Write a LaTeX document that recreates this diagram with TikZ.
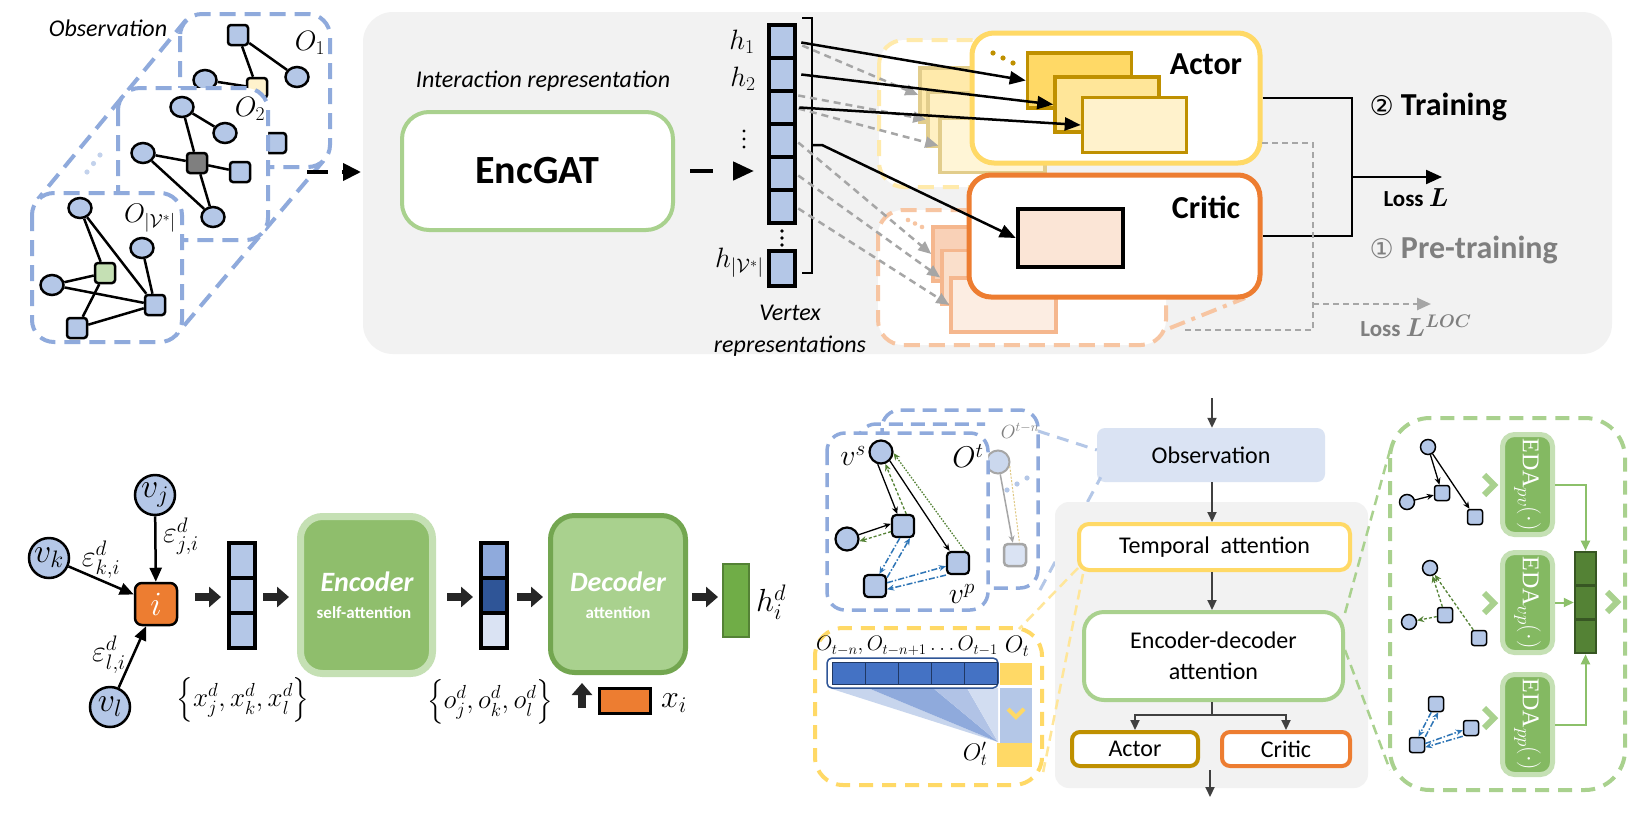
\RequirePackage{fix-cm}
\documentclass[tikz,border=0pt]{standalone}
\usepackage{amsmath}
\usepackage{fontspec}
\setmainfont{Carlito}
\newfontfamily\djv{DejaVu Sans}
\newfontfamily\serf{Liberation Serif}
\usetikzlibrary{shapes.geometric,arrows.meta,calc}
\definecolor{nblue}{HTML}{B4C7E7}
\definecolor{fblue}{HTML}{8FAADC}
\definecolor{lblue}{HTML}{DAE3F3}
\definecolor{dblue}{HTML}{2F5597}
\definecolor{mblue}{HTML}{4472C4}
\definecolor{nvblue}{HTML}{203864}
\definecolor{lgreen}{HTML}{A9D18E}
\definecolor{mgreen}{HTML}{70AD47}
\definecolor{dgreen}{HTML}{548235}
\definecolor{ddgreen}{HTML}{375623}
\definecolor{orng}{HTML}{ED7D31}
\definecolor{lorng}{HTML}{FBE5D6}
\definecolor{gold}{HTML}{BF9000}
\definecolor{yel}{HTML}{FFD966}
\definecolor{yel2}{HTML}{FFE699}
\definecolor{yel3}{HTML}{FFF2CC}
\definecolor{panel}{HTML}{F2F2F2}
\definecolor{gtxt}{HTML}{7F7F7F}
\definecolor{garr}{HTML}{A6A6A6}
\definecolor{darr}{HTML}{404040}
\definecolor{blkc}{HTML}{262626}
\definecolor{encfill}{HTML}{8FBE6C}
\definecolor{encbord}{HTML}{C5E0B4}
\definecolor{decbord}{HTML}{73A650}
\definecolor{edafill}{HTML}{84B962}
\definecolor{arrblue}{HTML}{2E75B6}
\definecolor{linkg}{HTML}{8CC06A}
\newcommand{\fsz}[2]{\fontsize{#1}{#2}\selectfont}
\newcommand{\edalbl}[1]{EDA\raisebox{-5pt}{\fsz{19}{19}$#1$}$(\cdot)$}
\tikzset{
  bframe/.style={draw=fblue, line width=4pt, dash pattern=on 16pt off 9pt, rounded corners=22pt},
  bframeb/.style={draw=fblue, line width=3.5pt, dash pattern=on 14pt off 8pt, rounded corners=18pt},
  tsq/.style={rectangle, draw=black, fill=nblue, line width=2.5pt, minimum size=20pt, inner sep=0pt, rounded corners=3pt},
  tci/.style={ellipse, draw=black, fill=nblue, line width=2.5pt, minimum width=23pt, minimum height=20pt, inner sep=0pt},
  tedge/.style={line width=2.5pt, draw=black},
  vcell/.style={rectangle, draw=black, fill=nblue, line width=4.5pt, minimum width=26pt, minimum height=33pt, inner sep=0pt},
  fcard/.style={rectangle, line width=3.5pt, minimum width=105pt, minimum height=54pt, inner sep=0pt},
  acard/.style={rectangle, draw=gold, line width=3.5pt, minimum width=104pt, minimum height=55pt, inner sep=0pt},
  garrow/.style={draw=garr, line width=2.5pt, dash pattern=on 7pt off 5pt, -{Triangle[length=13pt,width=11pt]}},
  barrow/.style={draw=black, line width=2.5pt, -{Triangle[length=16pt,width=13pt]}},
  gdsh/.style={draw=garr, line width=2.5pt, dash pattern=on 6pt off 4pt},
  vcirc/.style={circle, draw=black, fill=nblue, line width=2.5pt, minimum size=40pt, inner sep=0pt, font=\fsz{34}{34}},
  earrow/.style={draw=black, line width=2.5pt, -{Triangle[length=14pt,width=12pt]}},
  blk/.style={draw=blkc, line width=8pt, -{Triangle[length=12pt,width=20pt]}},
  vcol/.style={rectangle, draw=black, line width=4.5pt, minimum width=26pt, minimum height=35pt, inner sep=0pt},
  sc/.style={circle, draw=black, fill=nblue, line width=2.2pt, minimum size=23pt, inner sep=0pt},
  ss/.style={rectangle, rounded corners=4pt, draw=black, fill=nblue, line width=2.2pt, minimum size=22pt, inner sep=0pt},
  msc/.style={circle, draw=black, fill=nblue, line width=1.5pt, minimum size=15pt, inner sep=0pt},
  mss/.style={rectangle, rounded corners=2.5pt, draw=black, fill=nblue, line width=1.5pt, minimum size=15pt, inner sep=0pt},
  th/.style={draw=black, line width=1.3pt, -{Stealth[length=7pt,width=6pt]}},
  gd/.style={draw=dgreen, line width=1.3pt, dash pattern=on 3pt off 2pt, -{Stealth[length=7pt,width=6pt]}},
  bd/.style={draw=arrblue, line width=1.5pt, dash pattern=on 6pt off 2pt on 1.5pt off 2pt, -{Stealth[length=7pt,width=6pt]}},
  darrow/.style={draw=darr, line width=2pt, -{Triangle[length=10pt,width=9pt]}},
  lbd/.style={draw=nblue, line width=3pt, dash pattern=on 12pt off 8pt},
  ydsh/.style={draw=yel2, line width=2.5pt, dash pattern=on 10pt off 6pt},
  gdl/.style={draw=lgreen, line width=2.5pt, dash pattern=on 10pt off 6pt},
  smallbox/.style={rectangle, line width=4pt, fill=white, rounded corners=8pt, minimum height=34pt, font=\fsz{24}{24}},
  eda/.style={rectangle, draw=encbord, fill=edafill, line width=5pt, rounded corners=12pt, minimum width=50pt, minimum height=100pt, inner sep=0pt},
  edatxt/.style={rotate=-90, text=white, font=\serf\fsz{24}{24}, inner sep=0pt},
  ocell/.style={rectangle, draw=ddgreen, fill=dgreen, line width=2.5pt, minimum width=21pt, minimum height=33.7pt, inner sep=0pt},
  glink/.style={draw=linkg, line width=2pt, -{Triangle[length=10pt,width=9pt]}},
  chev/.style={draw=lgreen, line width=6pt, miter limit=10},
}
\begin{document}
\begin{tikzpicture}[x=1pt,y=-1pt]
\useasboundingbox (0,0) rectangle (1642,817);
\fill[white] (0,0) rectangle (1642,817);

% ================= top panel background
\fill[panel, rounded corners=30pt] (363,12) rectangle (1612,354);

% ================= observation stack (top left)
\node[font=\fsz{24}{24}\itshape] (obstitle) at (108,28) {Observation};
\draw[bframe] (186,20) -- (38,199);
\draw[bframe] (323.6,160.6) -- (175.6,335.6);
\draw[bframe, fill=white] (180,14) rectangle (330,167);
\node[tci] (a2) at (297,77) {};
\node[tsq] (a1) at (238,35) {};
\node[tci] (a3) at (205,80) {};
\node[tsq] (a5) at (276,143) {};
\draw[tedge] (a1) -- (a2);
\node[font=\fsz{28}{28}] (lo1) at (310,43) {$O_1$};
\node[tsq, fill=yel3] (a4) at (257,88) {};
\draw[tedge] (a1) -- (a4);
\draw[tedge] (a3) -- (a4);
\draw[bframe, fill=white] (118,88) rectangle (268,240);
\node[tci] (b1) at (182,107) {};
\node[tci] (b2) at (225,133) {};
\node[tci] (b3) at (143,153) {};
\node[tsq, fill=gtxt] (b4) at (197,163) {};
\node[tsq] (b5) at (240,172) {};
\node[tci] (b6) at (213,217) {};
\draw[tedge] (b1) -- (b2);
\draw[tedge] (b1) -- (b4);
\draw[tedge] (b3) -- (b4);
\draw[tedge] (b4) -- (b5);
\draw[tedge] (b4) -- (b6);
\draw[tedge] (b3) -- (b6);
\node[font=\fsz{28}{28}] (lo2) at (250,109) {$O_2$};
\foreach \x/\y in {87/172,93.5/163.5,100/155} \fill[nblue!80] (\x,\y) circle (2.6);
\draw[bframe, fill=white] (32,193) rectangle (182,342);
\node[tci] (c1) at (80,208) {};
\node[tci] (c2) at (142,248) {};
\node[tsq, fill=encbord] (c3) at (105,273) {};
\node[tci] (c4) at (52,285) {};
\node[tsq] (c5) at (155,305) {};
\node[tsq] (c6) at (77,328) {};
\draw[tedge] (c1) -- (c5);
\draw[tedge] (c1) -- (c3);
\draw[tedge] (c2) -- (c5);
\draw[tedge] (c4) -- (c3);
\draw[tedge] (c4) -- (c5);
\draw[tedge] (c3) -- (c6);
\draw[tedge] (c6) -- (c5);
\node[font=\fsz{27}{27}] (lo3) at (150,218) {$O_{|\mathcal{V}^{*}|}$};
\coordinate (oa) at (307,172);
\coordinate (ob) at (361,172);
\draw[line width=4pt, dash pattern=on 21pt off 14pt, -{Triangle[length=18pt,width=17pt]}] (oa) -- (ob);

% ================= EncGAT and vertex column
\node[font=\fsz{24}{24}\itshape] (irep) at (543,81) {Interaction representation};
\node[draw=lgreen, line width=4pt, fill=white, rounded corners=27pt, minimum width=271pt, minimum height=118pt, font=\fsz{40}{40}\bfseries] (enc) at (537.5,171) {EncGAT};
\foreach \k/\y in {1/41.5,2/74.5,3/107.5,4/140.5,5/173.5,6/206.5} \node[vcell] (h\k) at (782,\y) {};
\node[vcell, minimum height=35pt] (hn) at (782,268.5) {};
\foreach \y in {231,238,245} \fill (782,\y) circle (1.8);
\foreach \y in {131,139,147} \fill (744,\y) circle (1.6);
\node[font=\fsz{28}{28}] (lh1) at (742,42) {$h_1$};
\node[font=\fsz{28}{28}] (lh2) at (743,79) {$h_2$};
\node[font=\fsz{28}{28}, anchor=east] (lhn) at (767,263) {$h_{|\mathcal{V}^{*}|}$};
\draw[line width=2pt] (802,18) -- (812,18) -- (812,273) -- (802,273);
\coordinate (brk) at (812,145);
\node[align=center, font=\fsz{24}{32}\itshape] (vrep) at (790,331) {Vertex\\representations};
\coordinate (ea) at ($(enc.east)+(15,0)$);
\coordinate (eb) at (754,171);
\draw[line width=4.5pt, dash pattern=on 23pt off 40pt, -{Triangle[length=21pt,width=18pt]}] (ea) -- (eb);

% ================= faded copies
\draw[draw=yel!55, line width=4pt, dash pattern=on 16pt off 9pt, fill=white, rounded corners=25pt] (879,40) rectangle (1045,187);
\draw[draw=orng!45, line width=4pt, dash pattern=on 16pt off 9pt, fill=white, rounded corners=25pt] (878,210) rectangle (1166,345);
\draw[draw=orng!45, line width=4pt, dash pattern=on 16pt off 7pt on 4pt off 7pt] (1170,328) -- (1245,298);
\node[fcard, fill=yel!55, draw=gold!45] (fa) at (972.5,95) {};
\node[fcard, fill=yel2!60, draw=gold!45] (fb) at (980.5,119.5) {};
\node[fcard, fill=yel3!80, draw=gold!45] (fc) at (992.5,145.5) {};
\node[fcard, fill=orng!35, draw=orng!55] (fd) at (985.5,254) {};
\node[fcard, fill=orng!25, draw=orng!55] (fe) at (994.5,277.5) {};
\node[fcard, fill=orng!14, draw=orng!55] (ff) at (1003.5,305) {};
\foreach \x/\y in {908/220,915/223.5,922/227} \fill[orng!45] (\x,\y) circle (2.3);
\draw[garrow] ($(h1.east)+(5,4)$) -- (fa.west);
\draw[garrow] ($(h3.east)+(1,-12)$) -- (fb.west);
\draw[garrow] ($(h3.east)+(1,1)$) -- (fc.west);
\draw[garrow] ($(h4.east)+(1,2)$) -- (fd.west);
\draw[garrow] ($(h5.east)+(1,2)$) -- (fe.west);
\draw[garrow] ($(h6.east)+(1,2)$) -- (ff.west);

% ================= actor / critic
\node[draw=yel, line width=5pt, fill=white, rounded corners=22pt, minimum width=288pt, minimum height=130pt] (actor) at (1116,98) {};
\node[font=\fsz{32}{32}\bfseries] (actlbl) at (1206,64) {Actor};
\foreach \x/\y in {993/53,1003/58,1013/63} \fill[gold] (\x,\y) circle (2.6);
\node[acard, fill=yel] (ac1) at (1079.5,80.5) {};
\node[acard, fill=yel2] (ac2) at (1107,104.5) {};
\node[acard, fill=yel3] (ac3) at (1134.5,125) {};
\node[draw=orng, line width=5pt, fill=white, rounded corners=22pt, minimum width=291pt, minimum height=122pt] (critic) at (1114.5,236) {};
\node[font=\fsz{32}{32}\bfseries] (crilbl) at (1206,207) {Critic};
\node[rectangle, draw=black, fill=lorng, line width=4.5pt, minimum width=105pt, minimum height=58pt, inner sep=0pt] (cin) at (1070.5,238) {};
\draw[barrow] ($(h1.east)+(4,1)$) -- (ac1.west);
\draw[barrow] ($(h2.east)+(4,0)$) -- (ac2.west);
\draw[barrow] ($(h3.east)+(2,0)$) -- (ac3.west);
\draw[barrow] (brk) -- ++(10,0) -- (cin.west);

% ================= losses
\coordinate (j1) at (1352,98);
\coordinate (j2) at (1352,236);
\coordinate (jm) at (1352,177);
\coordinate (lossL) at (1442,177);
\draw[line width=2.2pt] (actor.east) -- (j1) -- (j2) -- (critic.east);
\draw[line width=2.2pt, -{Triangle[length=16pt,width=14pt]}] (jm) -- (lossL);
\node[font=\fsz{23}{23}\bfseries] (losslbl) at (1416,198) {Loss {\fsz{26}{26}$\boldsymbol{L}$}};
\coordinate (g0) at (1262,143);
\coordinate (g1) at (1313,143);
\coordinate (g2) at (1313,330);
\coordinate (g3) at (1182,330);
\coordinate (g4) at (1313,304);
\coordinate (g5) at (1431,304);
\draw[gdsh] (g0) -- (g1) -- (g2) -- (g3);
\draw[gdsh, -{Triangle[length=14pt,width=12pt]}] (g4) -- (g5);
\node[font=\fsz{23}{23}\bfseries, text=gtxt] (lossloc) at (1416,326) {Loss {\fsz{26}{26}$\boldsymbol{L^{LOC}}$}};
\node[font=\fsz{32}{32}\bfseries, anchor=west] (train) at (1366,107) {{\djv\mdseries\fsz{27}{27}②} Training};
\node[font=\fsz{32}{32}\bfseries, anchor=west, text=gtxt] (pretrain) at (1366,250) {{\djv\mdseries\fsz{27}{27}①} Pre-training};

% ================= bottom left: graph -> encoder -> decoder
\node[vcirc] (vj) at (155,495) {$v_j$};
\node[vcirc] (vk) at (49,558) {$v_k$};
\node[vcirc] (vl) at (110,707) {$v_l$};
\node[rectangle, rounded corners=7pt, draw=black, fill=orng, line width=2.5pt, minimum size=42pt, inner sep=0pt, text=white, font=\fsz{34}{34}] (ni) at (156,604) {$i$};
\draw[earrow] (vj) -- (ni);
\draw[earrow] (vk) -- (ni);
\draw[earrow] (vl) -- (ni);
\node[font=\fsz{30}{30}] (ej) at (181,536) {$\varepsilon^d_{j,i}$};
\node[font=\fsz{30}{30}] (ek) at (101,560) {$\varepsilon^d_{k,i}$};
\node[font=\fsz{30}{30}] (el) at (109,655) {$\varepsilon^d_{l,i}$};
\node[vcol, fill=nblue] (x1) at (242,560.5) {};
\node[vcol, fill=nblue] (x2) at (242,595.5) {};
\node[vcol, fill=nblue] (x3) at (242,630.5) {};
\node[font=\fsz{27}{27}] (xset) at (243,700) {$\left\{x^d_j, x^d_k, x^d_l\right\}$};
\node[draw=encbord, fill=encfill, line width=7pt, rounded corners=22pt, minimum width=132pt, minimum height=157pt] (encoder) at (366.5,595) {};
\node[text=white, font=\fsz{28}{28}\bfseries\itshape] (enctxt) at (367,582) {Encoder};
\node[text=white, font=\fsz{17}{17}\bfseries] (enctxt2) at (364,613) {self-attention};
\node[vcol, fill=fblue] (o1) at (494,560.5) {};
\node[vcol, fill=dblue] (o2) at (494,595.5) {};
\node[vcol, fill=lblue] (o3) at (494,630.5) {};
\node[font=\fsz{27}{27}] (oset) at (490,702) {$\left\{o^d_j, o^d_k, o^d_l\right\}$};
\node[draw=decbord, fill=lgreen, line width=5pt, rounded corners=24pt, minimum width=135pt, minimum height=157pt] (decoder) at (618,594) {};
\node[text=white, font=\fsz{28}{28}\bfseries\itshape] (dectxt) at (618,582) {Decoder};
\node[text=white, font=\fsz{17}{17}\bfseries] (dectxt2) at (618,613) {attention};
\node[rectangle, draw=dgreen, fill=mgreen, line width=2.5pt, minimum width=26pt, minimum height=73pt, inner sep=0pt] (hd) at (736,600.5) {};
\node[font=\fsz{32}{32}] (hdl) at (771,602) {$h^d_i$};
\node[rectangle, draw=black, fill=orng, line width=3pt, minimum width=51pt, minimum height=25pt, inner sep=0pt] (xi) at (625,701) {};
\node[font=\fsz{32}{32}] (xil) at (674,703) {$x_i$};
\coordinate (k1a) at (195,597); \coordinate (k1b) at (221,597);
\coordinate (k2a) at (263,597); \coordinate (k2b) at (289,597);
\coordinate (k3a) at (447,597); \coordinate (k3b) at (473,597);
\coordinate (k4a) at (517,597); \coordinate (k4b) at (543,597);
\coordinate (k5a) at (692,597); \coordinate (k5b) at (718,597);
\coordinate (k6a) at (582,708); \coordinate (k6b) at (582,683);
\draw[blk] (k1a) -- (k1b);
\draw[blk] (k2a) -- (k2b);
\draw[blk] (k3a) -- (k3b);
\draw[blk] (k4a) -- (k4b);
\draw[blk] (k5a) -- (k5b);
\draw[blk] (k6a) -- (k6b);

% ================= bottom right: observation graphs
\draw[bframeb] (882,410) rectangle (1038,588);
\node[circle, draw=garr, fill=nblue!70, line width=2pt, minimum size=23pt, inner sep=0pt] (gc) at (998,462) {};
\node[rectangle, rounded corners=4pt, draw=garr, fill=lblue, line width=2.5pt, minimum size=22pt, inner sep=0pt] (gs) at (1015,555) {};
\draw[draw=garr, line width=1.5pt, -{Stealth[length=7pt,width=6pt]}] (gc) -- (gs);
\draw[draw=gold!50, line width=1pt, dash pattern=on 2pt off 1.5pt] (gc.-20) -- (gs.70);
\foreach \x/\y in {1007/490,1017/484,1027/478} \fill[nblue] (\x,\y) circle (2.6);
\node[font=\fsz{19}{19}, text=gtxt] (lotn) at (1020,431) {$O^{t-n}$};
\draw[bframeb] (858,445) |- (985,424);
\draw[bframeb, fill=white] (827,433) rectangle (988,610);
\node[sc] (vs) at (881,452) {};
\node[ss] (na) at (903,526) {};
\node[sc] (nb) at (847,539) {};
\node[ss] (np) at (958,563) {};
\node[ss] (nc) at (875,586) {};
\draw[th] (vs.-105) -- (na.115);
\draw[gd] (na.75) -- (vs.-70);
\draw[th] (vs.-45) -- (np.125);
\draw[gd, dash pattern=on 1.5pt off 1.5pt] (np.60) -- (vs.-5);
\draw[th] (nb.20) -- (na.170);
\draw[gd] (na.205) -- (nb.-10);
\draw[bd] (na.-105) -- (nc.70);
\draw[bd] (nc.35) -- (na.-60);
\draw[bd] (nc.15) -- (np.195);
\draw[bd] (np.225) -- (nc.-15);
\node[font=\fsz{30}{30}] (lvs) at (853,456) {$v^s$};
\node[font=\fsz{30}{30}] (lot) at (968,456) {$O^t$};
\node[font=\fsz{30}{30}] (lvp) at (962,594) {$v^p$};

% ================= bottom right: pipeline
\node[fill=lblue, rounded corners=8pt, minimum width=228pt, minimum height=54pt, font=\fsz{24}{24}] (obs) at (1211,455) {Observation};
\draw[lbd] (1038,431) -- ($(obs.west)+(0,-5)$);
\draw[lbd] (1040,590) -- ($(obs.south west)+(4,-5)$);
\fill[panel, rounded corners=14pt] (1055,502) rectangle (1368,788);
\node[draw=yel, line width=4pt, fill=white, rounded corners=10pt, minimum width=271pt, minimum height=46pt, font=\fsz{24}{24}] (temp) at (1214.5,547) {Temporal\ \ attention};
\node[draw=lgreen, line width=4pt, fill=white, rounded corners=20pt, minimum width=259pt, minimum height=88pt, align=center, font=\fsz{24}{31}] (ed) at (1213.5,656) {Encoder-decoder\\attention};
\node[smallbox, draw=gold, minimum width=126pt] (sact) at (1135,749) {Actor};
\node[smallbox, draw=orng, minimum width=128pt] (scri) at (1286,749) {Critic};
\coordinate (topin) at (1212,398);
\draw[darrow] (topin) -- (topin |- obs.north);
\draw[darrow] (obs.south -| topin) -- (topin |- temp.north);
\draw[darrow] (temp.south -| topin) -- (topin |- ed.north);
\coordinate (split) at (1212,715);
\draw[line width=2pt, draw=darr] (ed.south -| split) -- (split);
\draw[darrow] (split) -| (sact.north);
\draw[darrow] (split) -| (scri.north);
\coordinate (outa) at (1210,770);
\coordinate (outb) at (1210,797);
\draw[darrow] (outa) -- (outb);

% temporal inset
\coordinate (ty1) at (1019,629);
\coordinate (ty2) at (1043,773);
\draw[ydsh] ($(temp.south west)+(1,-4)$) -- (ty1);
\draw[ydsh] ($(temp.south west)+(6,2)$) -- (ty2);
\draw[draw=yel, line width=4pt, dash pattern=on 14pt off 9pt, rounded corners=28pt] (815,628) rectangle (1042,785);
\coordinate (apex) at (998,742);
\fill[fill=nblue!75] (829,688) -- (868,688) -- (apex) -- cycle;
\fill[fill=fblue] (868,688) -- (933,688) -- (apex) -- cycle;
\fill[fill=fblue!70] (933,688) -- (967,688) -- (apex) -- cycle;
\fill[fill=nblue!60] (967,688) -- (998,688) -- (apex) -- cycle;
\node[draw=dblue, line width=1.5pt, fill=white, rounded corners=5pt, minimum width=171pt, minimum height=30pt, inner sep=0pt] (bar) at (912.5,673) {};
\foreach \x in {848.5,881.5,914.5,947.5,980.5} \node[rectangle, draw=nvblue, fill=mblue, line width=1pt, minimum width=33pt, minimum height=22pt, inner sep=0pt] at (\x,673) {};
\node[font=\fsz{21}{21}] (lseq) at (907,646) {$O_{t-n}, O_{t-n+1}\ldots O_{t-1}$};
\node[font=\fsz{24}{24}] (lott) at (1017,646) {$O_t$};
\node[rectangle, fill=yel, minimum width=32pt, minimum height=22pt, inner sep=0pt] (ot) at (1016,674) {};
\node[rectangle, fill=nblue, minimum width=32pt, minimum height=55pt, inner sep=0pt] (otb) at (1016,715.5) {};
\node[rectangle, fill=yel, minimum width=35pt, minimum height=24pt, inner sep=0pt] (otp) at (1014.5,755) {};
\draw[draw=yel, line width=4pt] (1008,709) -- (1016,717) -- (1024,709);
\node[font=\fsz{24}{24}] (lotp) at (975,754) {$O'_t$};

% EDA inset
\coordinate (gy1) at (1390,450);
\coordinate (gy2) at (1390,770);
\draw[gdl] ($(ed.east)+(0,-43)$) -- (gy1);
\draw[gdl] ($(ed.east)+(0,-6)$) -- (gy2);
\draw[draw=lgreen, line width=4pt, dash pattern=on 14pt off 9pt, rounded corners=40pt] (1390,418) rectangle (1625,790);
\node[eda] (e1) at (1527.5,484.5) {};
\node[eda] (e2) at (1527.5,602.5) {};
\node[eda] (e3) at (1527.5,724.5) {};
\node[edatxt] (e1t) at (e1) {\edalbl{pv}};
\node[edatxt] (e2t) at (e2) {\edalbl{vp}};
\node[edatxt] (e3t) at (e3) {\edalbl{pp}};
\node[ocell] (q1) at (1585.5,568.8) {};
\node[ocell] (q2) at (1585.5,602.5) {};
\node[ocell] (q3) at (1585.5,636.2) {};
\draw[glink] (e1.east) -| (q1.north);
\draw[glink] (e2.east) -- (q2.west);
\draw[glink] (e3.east) -| (q3.south);
\foreach \y in {485,603,718} \draw[chev] (1484,\y-10) -- (1494,\y) -- (1484,\y+10);
\draw[chev] (1607,592) -- (1617,602) -- (1607,612);
\node[msc] (m1) at (1428,447) {};
\node[msc] (m2) at (1407,502) {};
\node[mss] (m3) at (1442,493) {};
\node[mss] (m4) at (1475,517) {};
\draw[th] (m1) -- (m3);
\draw[th] (m1) -- (m4);
\draw[th] (m2) -- (m3);
\node[msc] (m5) at (1430,568) {};
\node[msc] (m6) at (1409,622) {};
\node[mss] (m7) at (1445,615) {};
\node[mss] (m8) at (1479,638) {};
\draw[gd] (m7) -- (m5);
\draw[gd] (m8) -- (m5);
\draw[gd] (m7) -- (m6);
\node[mss] (m9) at (1436,704) {};
\node[mss] (m10) at (1417,745) {};
\node[mss] (m11) at (1471,728) {};
\draw[bd] (m9.-120) -- (m10.80);
\draw[bd] (m10.45) -- (m9.-75);
\draw[bd] (m10.10) -- (m11.195);
\draw[bd] (m11.225) -- (m10.-15);
\end{tikzpicture}
\end{document}
